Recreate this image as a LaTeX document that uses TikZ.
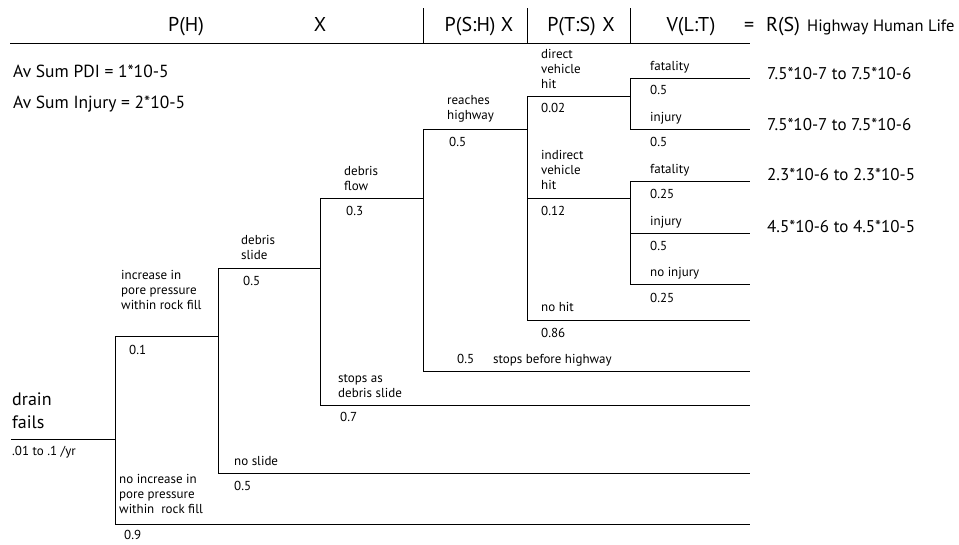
\documentclass[tikz,border=0pt]{standalone}
\usepackage{fontspec}
\setmainfont{PT Sans}
\begin{document}
\begin{tikzpicture}[x=1pt,y=-1pt,
  ln/.style={line width=0.9pt,black},
  hd/.style={font=\fontsize{20}{24}\selectfont,anchor=base,inner sep=0},
  lb/.style={font=\fontsize{13}{15}\selectfont,anchor=base west,inner sep=0,align=left},
  big/.style={font=\fontsize{17.5}{20}\selectfont,anchor=base west,inner sep=0},
  drn/.style={font=\fontsize{18}{23}\selectfont,anchor=base west,inner sep=0,align=left}]
\useasboundingbox (0,0) rectangle (959,544);
% header
\node[hd] (hPH) at (186,31) {P(H)};
\node[hd] (hX) at (320,31) {X};
\node[hd] (hPSH) at (479,31) {P(S:H) X};
\node[hd] (hPTS) at (581,31) {P(T:S)\,\,X};
\node[hd] (hVLT) at (691,31) {V(L:T)};
\node[hd,anchor=base west] (hEq) at (744,31) {=};
\node[hd,anchor=base west] (hRS) at (766,31) {R(S)};
\node[font=\fontsize{16.5}{18}\selectfont,anchor=base west,inner sep=0] (hHHL) at (807,31) {Highway Human Life};
\coordinate (hl0) at (10,43); \coordinate (hl1) at (750,43);
\coordinate (s1t) at (423,8); \coordinate (s1b) at (423,43);
\coordinate (s2t) at (527,8); \coordinate (s2b) at (527,43);
\coordinate (s3t) at (630,8); \coordinate (s3b) at (630,43);
\draw[ln] (hl0) -- (hl1);
\draw[ln] (s1t) -- (s1b);
\draw[ln] (s2t) -- (s2b);
\draw[ln] (s3t) -- (s3b);
% sums
\node[big] (pdi) at (13,77) {Av Sum PDI = 1*10-5};
\node[big] (inj) at (13,108) {Av Sum Injury = 2*10-5};
% results
\node[big,font=\fontsize{17}{20}\selectfont] (r1) at (767,79) {7.5*10-7 to 7.5*10-6};
\node[big,font=\fontsize{17}{20}\selectfont] (r2) at (767,130) {7.5*10-7 to 7.5*10-6};
\node[big,font=\fontsize{17}{20}\selectfont] (r3) at (767,180) {2.3*10-6 to 2.3*10-5};
\node[big,font=\fontsize{17}{20}\selectfont] (r4) at (767,232) {4.5*10-6 to 4.5*10-5};
% tree coordinates
\coordinate (d0) at (11,439);
\coordinate (n1) at (115,439);
\coordinate (n1t) at (115,336); \coordinate (n1b) at (115,524);
\coordinate (n2) at (218,336);
\coordinate (n2t) at (218,268); \coordinate (n2b) at (218,473);
\coordinate (n3) at (320,268);
\coordinate (n3t) at (320,198); \coordinate (n3b) at (320,405);
\coordinate (n4) at (423,198);
\coordinate (n4t) at (423,129); \coordinate (n4b) at (423,371);
\coordinate (n5) at (527,129);
\coordinate (n5t) at (527,96); \coordinate (n5m) at (527,198); \coordinate (n5b) at (527,320);
\coordinate (n6) at (630,96);
\coordinate (n6t) at (630,78); \coordinate (n6b) at (630,129);
\coordinate (n7) at (630,198);
\coordinate (n7t) at (630,181); \coordinate (n7m) at (630,233); \coordinate (n7b) at (630,284);
\coordinate (e1) at (750,78); \coordinate (e2) at (750,129);
\coordinate (e3) at (750,181); \coordinate (e4) at (750,233); \coordinate (e5) at (750,284);
\coordinate (e6) at (750,320); \coordinate (e7) at (750,371); \coordinate (e8) at (750,405);
\coordinate (e9) at (750,473); \coordinate (e10) at (750,524);
% tree lines
\draw[ln] (d0) -- (n1);
\draw[ln] (n1t) -- (n1b);
\draw[ln] (n1t) -- (n2);
\draw[ln] (n1b) -- (e10);
\draw[ln] (n2t) -- (n2b);
\draw[ln] (n2t) -- (n3);
\draw[ln] (n2b) -- (e9);
\draw[ln] (n3t) -- (n3b);
\draw[ln] (n3t) -- (n4);
\draw[ln] (n3b) -- (e8);
\draw[ln] (n4t) -- (n4b);
\draw[ln] (n4t) -- (n5);
\draw[ln] (n4b) -- (e7);
\draw[ln] (n5t) -- (n5b);
\draw[ln] (n5t) -- (n6);
\draw[ln] (n5m) -- (n7);
\draw[ln] (n5b) -- (e6);
\draw[ln] (n6t) -- (n6b);
\draw[ln] (n6t) -- (e1);
\draw[ln] (n6b) -- (e2);
\draw[ln] (n7t) -- (n7b);
\draw[ln] (n7t) -- (e3);
\draw[ln] (n7m) -- (e4);
\draw[ln] (n7b) -- (e5);
% labels (base = baseline of last line)
\node[drn] (ldrain) at (12,428) {drain\\fails};
\node[lb] (lrate) at (12,455) {.01 to .1 /yr};
\node[lb] (linc) at (121,309) {increase in\\pore pressure\\within rock fill};
\node[lb] (p01) at (129,354) {0.1};
\node[lb] (lnoinc) at (119,513) {no increase in\\pore pressure\\within\ \ rock fill};
\node[lb] (p09) at (124,539) {0.9};
\node[lb] (lds) at (241,259) {debris\\slide};
\node[lb] (p05a) at (243,285) {0.5};
\node[lb] (lns) at (234,465) {no slide};
\node[lb] (p05b) at (234,490) {0.5};
\node[lb] (ldf) at (344,190) {debris\\flow};
\node[lb] (p03) at (346,215) {0.3};
\node[lb] (lsds) at (338,397) {stops as\\debris slide};
\node[lb] (p07) at (340,421) {0.7};
\node[lb] (lrh) at (447,119) {reaches\\highway};
\node[lb] (p05c) at (449,146) {0.5};
\node[lb] (p05d) at (457,363) {0.5};
\node[lb] (lsbh) at (493,363) {stops before highway};
\node[lb] (ldvh) at (541,88) {direct\\vehicle\\hit};
\node[lb] (p002) at (541,112) {0.02};
\node[lb] (livh) at (541,189) {indirect\\vehicle\\hit};
\node[lb] (p012) at (541,215) {0.12};
\node[lb] (lnh) at (541,311) {no hit};
\node[lb] (p086) at (541,337) {0.86};
\node[lb] (lf1) at (650,70) {fatality};
\node[lb] (p05e) at (650,94) {0.5};
\node[lb] (li1) at (650,121) {injury};
\node[lb] (p05f) at (650,146) {0.5};
\node[lb] (lf2) at (650,173) {fatality};
\node[lb] (p025a) at (650,198) {0.25};
\node[lb] (li2) at (650,225) {injury};
\node[lb] (p05g) at (650,250) {0.5};
\node[lb] (lni) at (650,276) {no injury};
\node[lb] (p025b) at (650,302) {0.25};
\end{tikzpicture}
\end{document}
